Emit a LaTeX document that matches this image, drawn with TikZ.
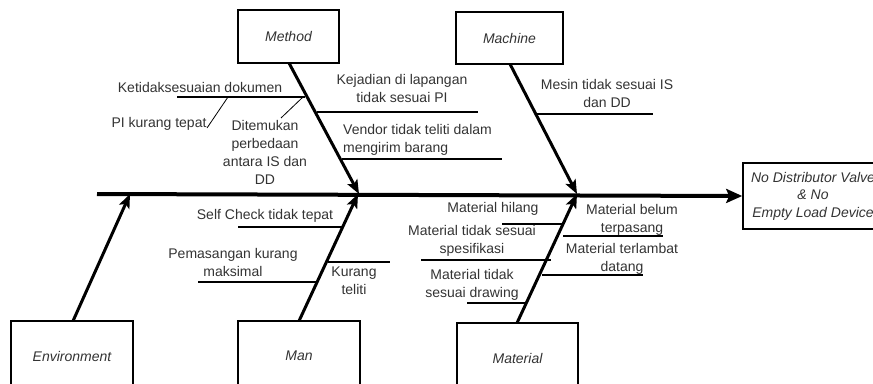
\documentclass[tikz,border=0pt]{standalone}
\usepackage{fontspec}
\setmainfont{Liberation Sans}
\usetikzlibrary{arrows.meta}
\begin{document}
\begin{tikzpicture}[x=1pt,y=-1pt,
  catbox/.style={draw, line width=1.6pt, inner sep=0pt, font=\fontsize{14}{18}\selectfont\itshape, text=black!80},
  effbox/.style={draw, line width=1.6pt, inner sep=0pt, align=center, font=\fontsize{14}{17.5}\selectfont\itshape, text=black!80},
  lbl/.style={inner sep=0pt, align=center, font=\fontsize{14}{18}\selectfont, text=black!80},
  spine/.style={line width=4pt, -{Stealth[length=16pt,width=14pt,inset=3pt]}},
  bone/.style={line width=3pt, -{Stealth[length=14pt,width=11pt,inset=3pt]}},
  sub/.style={line width=1.4pt},
  thin/.style={line width=0.8pt}]
\useasboundingbox (0,0) rectangle (873,383);

% category boxes
\node[catbox, minimum width=101pt, minimum height=53pt] (method) at (288.5,36.5) {Method};
\node[catbox, minimum width=107pt, minimum height=52pt] (machine) at (509.5,38) {Machine};
\node[catbox, minimum width=122pt, minimum height=70pt] (env) at (72,356) {Environment};
\node[catbox, minimum width=122pt, minimum height=70pt] (man) at (299,356) {Man};
\node[catbox, minimum width=121pt, minimum height=70pt] (material) at (517.5,358) {Material};
\node[effbox, minimum width=140pt, minimum height=66pt] (effect) at (813,196) {No Distributor Valve\\\& No\\Empty Load Device};

% spine
\coordinate (s0) at (97,194);
\draw[spine] (s0) -- (effect.west);

% bones
\coordinate (mtEnd) at (359,194);
\coordinate (mcEnd) at (577,194);
\coordinate (enEnd) at (130,194);
\coordinate (mnEnd) at (358,194);
\coordinate (maEnd) at (577,194);
\draw[bone] (289,63) -- (mtEnd);
\draw[bone] (510,64) -- (mcEnd);
\draw[bone] (73,321) -- (enEnd);
\draw[bone] (299,321) -- (mnEnd);
\draw[bone] (517,323) -- (maEnd);

% Method causes
\coordinate (k1) at (177,97); \coordinate (k2) at (305,97);
\draw[sub] (k1) -- (k2);
\node[lbl] (ketid) at (200,87) {Ketidaksesuaian dokumen};
\coordinate (p1) at (228,97); \coordinate (p2) at (207,128);
\draw[thin] (p1) -- (p2);
\node[lbl] (pi) at (159,124) {PI kurang tepat};
\coordinate (d1) at (303,97); \coordinate (d2) at (281,118);
\draw[thin] (d1) -- (d2);
\node[lbl] (dite) at (265,152) {Ditemukan\\perbedaan\\antara IS dan\\DD};
\coordinate (kj1) at (317,112); \coordinate (kj2) at (478,112);
\draw[sub] (kj1) -- (kj2);
\node[lbl] (kejad) at (402,88.5) {Kejadian di lapangan\\tidak sesuai PI};
\coordinate (v1) at (342,159); \coordinate (v2) at (502,159);
\draw[sub] (v1) -- (v2);
\node[lbl, align=left, anchor=west] (vendor) at (343,140) {Vendor tidak teliti dalam\\mengirim barang};

% Machine causes
\coordinate (ms1) at (537,114); \coordinate (ms2) at (653,114);
\draw[sub] (ms1) -- (ms2);
\node[lbl] (mesin) at (607,93) {Mesin tidak sesuai IS\\dan DD};

% Man causes
\coordinate (sc1) at (238,227); \coordinate (sc2) at (342,227);
\draw[sub] (sc1) -- (sc2);
\node[lbl] (self) at (265,216) {Self Check tidak tepat};
\coordinate (pm1) at (198,282); \coordinate (pm2) at (317,282);
\draw[sub] (pm1) -- (pm2);
\node[lbl] (pemas) at (233,262) {Pemasangan kurang\\maksimal};
\coordinate (kt1) at (328,262); \coordinate (kt2) at (390,262);
\draw[sub] (kt1) -- (kt2);
\node[lbl] (kurang) at (354,281) {Kurang\\teliti};

% Material causes
\coordinate (mh1) at (502,224); \coordinate (mh2) at (563,224);
\draw[sub] (mh1) -- (mh2);
\node[lbl] (hilang) at (493,209) {Material hilang};
\coordinate (sp1) at (421,260); \coordinate (sp2) at (551,260);
\draw[sub] (sp1) -- (sp2);
\node[lbl] (spes) at (472,241) {Material tidak sesuai\\spesifikasi};
\coordinate (dr1) at (467,303); \coordinate (dr2) at (526,303);
\draw[sub] (dr1) -- (dr2);
\node[lbl] (draw) at (472,284.5) {Material tidak\\sesuai drawing};
\coordinate (bt1) at (563,236); \coordinate (bt2) at (663,236);
\draw[sub] (bt1) -- (bt2);
\node[lbl] (belum) at (632,219.5) {Material belum\\terpasang};
\coordinate (tl1) at (542,275); \coordinate (tl2) at (643,275);
\draw[sub] (tl1) -- (tl2);
\node[lbl] (telat) at (622,259) {Material terlambat\\datang};
\end{tikzpicture}
\end{document}
